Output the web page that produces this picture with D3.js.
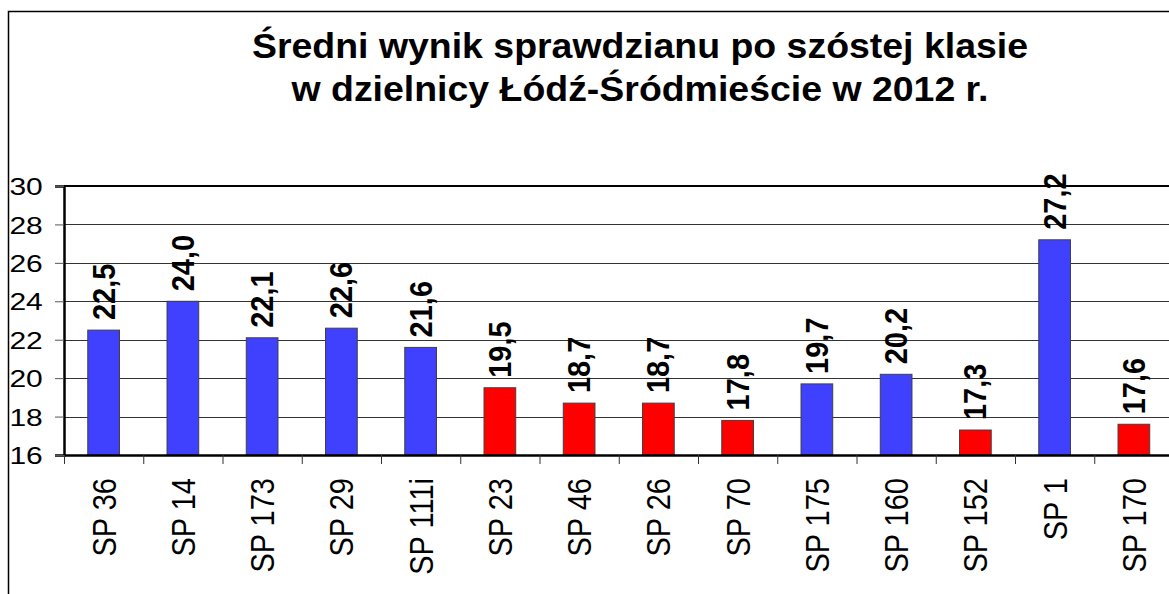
<!DOCTYPE html>
<html>
<head>
<meta charset="utf-8">
<script src="https://cdn.jsdelivr.net/npm/d3@7"></script>
<style>
  html, body { margin: 0; padding: 0; background: #fff; overflow: hidden; }
  text { font-family: Arial, "Liberation Sans", sans-serif; }
</style>
</head>
<body>
<div class="chart"></div>
<script>
const schools = ['SP 36', 'SP 14', 'SP 173', 'SP 29', 'SP 111i', 'SP 23', 'SP 46',
  'SP 26', 'SP 70', 'SP 175', 'SP 160', 'SP 152', 'SP 1', 'SP 170'];
const scores = [22.5, 24.0, 22.1, 22.6, 21.6, 19.5, 18.7, 18.7, 17.8, 19.7, 20.2, 17.3, 27.2, 17.6];
// red = below-average schools in the source
const below = [false, false, false, false, false, true, true, true, true, false, false, true, false, true];
const yTicks = [16, 18, 20, 22, 24, 26, 28, 30];
const titleLines = ['Średni wynik sprawdzianu po szóstej klasie', 'w dzielnicy Łódź-Śródmieście w 2012 r.'];

const W = 1169, H = 594;
const plot = { left: 64, right: 1173.5, top: 186, bottom: 455 };

const svg = d3.select('.chart')
  .append('svg')
  .attr('width', W)
  .attr('height', H);

// outer chart frame (cut off right/bottom in the original)
svg.append('path')
  .attr('d', `M8.5,${H + 5} V11.5 H${W + 5}`)
  .attr('fill', 'none')
  .attr('stroke', '#000')
  .attr('stroke-width', 1.5);

const title = svg.append('text')
  .attr('text-anchor', 'middle')
  .attr('font-weight', 'bold')
  .attr('font-size', '35px')
  .attr('transform', 'translate(640,0) scale(1.07,1)');
title.selectAll('tspan')
  .data(titleLines)
  .enter()
  .append('tspan')
  .attr('x', 0)
  .attr('y', (d, i) => 58 + i * 43)
  .text(d => d);

const x = d3.scaleBand()
  .domain(schools)
  .range([plot.left, plot.right])
  .paddingInner(0)
  .paddingOuter(0);

const y = d3.scaleLinear()
  .domain([16, 30])
  .range([plot.bottom, plot.top]);

// gridlines
svg.append('g')
  .selectAll('line')
  .data(yTicks.filter(t => t > 16 && t < 30))
  .enter()
  .append('line')
  .attr('x1', plot.left)
  .attr('x2', plot.right)
  .attr('y1', d => Math.round(y(d)) + 0.5)
  .attr('y2', d => Math.round(y(d)) + 0.5)
  .attr('stroke', '#333')
  .attr('stroke-width', 1);

// top border of plot area
svg.append('line')
  .attr('x1', plot.left)
  .attr('x2', plot.right)
  .attr('y1', y(30))
  .attr('y2', y(30))
  .attr('stroke', '#000')
  .attr('stroke-width', 2);

// bars
const barW = x.bandwidth() * 0.4;
svg.append('g')
  .selectAll('rect')
  .data(schools)
  .enter()
  .append('rect')
  .attr('x', (d, i) => x(d) + (x.bandwidth() - barW) / 2)
  .attr('y', (d, i) => y(scores[i]))
  .attr('width', barW)
  .attr('height', (d, i) => y(16) - y(scores[i]))
  .attr('fill', (d, i) => below[i] ? '#ff0000' : '#4040ff')
  .attr('stroke', '#404040')
  .attr('stroke-width', 1);

// value labels
svg.append('g')
  .selectAll('text')
  .data(schools)
  .enter()
  .append('text')
  .attr('transform', (d, i) =>
    `translate(${x(d) + x.bandwidth() / 2 + 11},${y(scores[i]) - 10}) rotate(-90) scale(1,1.1)`)
  .attr('font-size', '29px')
  .attr('font-weight', 'bold')
  .text((d, i) => scores[i].toFixed(1).replace('.', ','));

// y axis
const yAxis = svg.append('g')
  .attr('transform', `translate(${plot.left},0)`)
  .call(d3.axisLeft(y).tickValues(yTicks).tickSize(9).tickPadding(12));
yAxis.select('.domain').attr('stroke', '#000').attr('stroke-width', 2.5);
yAxis.selectAll('.tick line').attr('stroke', '#555');
yAxis.selectAll('.tick text')
  .attr('font-size', '24px')
  .attr('font-family', 'Arial, "Liberation Sans", sans-serif')
  .attr('fill', '#000')
  .attr('dy', '0.36em')
  .attr('transform', 'scale(1.25,1)')
  .attr('x', -17);

// x axis
const xAxis = svg.append('g')
  .attr('transform', `translate(0,${plot.bottom})`)
  .call(d3.axisBottom(x).tickSize(0).tickFormat(''));
xAxis.select('.domain').attr('stroke', '#000').attr('stroke-width', 2.5);
xAxis.append('g')
  .selectAll('line')
  .data(schools)
  .enter()
  .append('line')
  .attr('x1', d => x(d) + 0.5)
  .attr('x2', d => x(d) + 0.5)
  .attr('y1', 0)
  .attr('y2', 9)
  .attr('stroke', '#333');

svg.append('g')
  .selectAll('text')
  .data(schools)
  .enter()
  .append('text')
  .attr('transform', d => `translate(${x(d) + x.bandwidth() / 2 + 12},478) rotate(-90) scale(1,1.15)`)
  .attr('text-anchor', 'end')
  .attr('font-size', '29px')
  .text(d => d);
</script>
</body>
</html>
